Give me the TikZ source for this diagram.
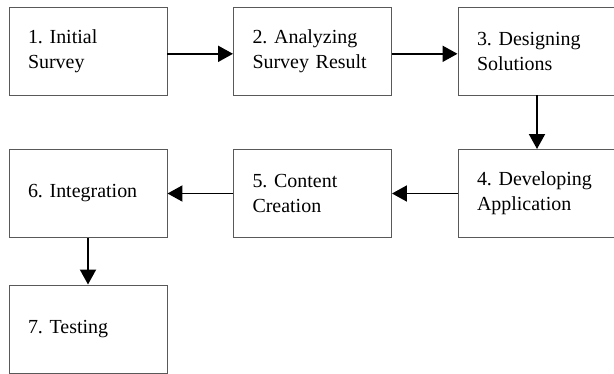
\documentclass[tikz,border=0pt]{standalone}
\usepackage{fontspec}
\setmainfont{Liberation Serif}
\usetikzlibrary{arrows.meta}
\frenchspacing

\begin{document}
\begin{tikzpicture}[
    stage/.style={rectangle, draw=black!65, line width=0.7pt, minimum width=3.95cm, minimum height=2.2cm,
        text width=3cm, inner xsep=0.475cm, align=left, font=\rmfamily\fontsize{14.2pt}{17.8pt}\selectfont},
    flow/.style={-{Triangle[length=0.375cm, width=0.4cm]}, line width=1.4pt, black}
]
\useasboundingbox (0,0) rectangle (15.35,-9.35);

% --- top row ---
\node[stage] (S1) at (2.2, -1.275) {1. Initial\\Survey};
\node[stage] (S2) at (7.8125, -1.275) {2. Analyzing\\Survey Result};
\node[stage] (S3) at (13.425, -1.275) {3. Designing\\Solutions};

% --- middle row ---
\node[stage] (S4) at (13.425, -4.8375) {4. Developing\\Application};
\node[stage] (S5) at (7.8125, -4.8375) {5. Content\\Creation};
\node[stage] (S6) at (2.2, -4.8375) {6. Integration};

% --- bottom ---
\node[stage] (S7) at (2.2, -8.225) {7. Testing};

\draw[flow] ([yshift=-2pt]S1.east) -- ([yshift=-2pt]S2.west);
\draw[flow] ([yshift=-2pt]S2.east) -- ([yshift=-2pt]S3.west);
\draw[flow] (S3) -- (S4);
\draw[flow] (S4) -- (S5);
\draw[flow] (S5) -- (S6);
\draw[flow] (S6) -- (S7);

\end{tikzpicture}
\end{document}
